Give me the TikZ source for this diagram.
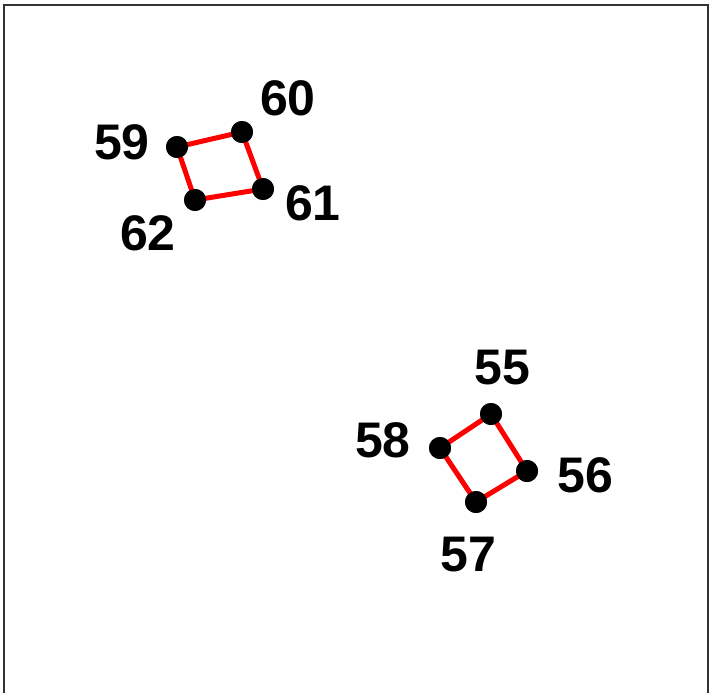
\documentclass[tikz,border=0pt]{standalone}
\usepackage{fontspec}
\setmainfont{Liberation Sans}
\usetikzlibrary{positioning}

\tikzset{
  dot/.style={circle,fill=black,inner sep=0pt,minimum size=22pt},
  num/.style={font=\fontsize{50}{51}\selectfont\bfseries,inner sep=0pt},
  ring/.style={draw=red,line width=5pt}
}

\begin{document}
\begin{tikzpicture}[x=1pt,y=-1pt]
      \useasboundingbox (0,0) rectangle (711,693);
      \draw[line width=2.5pt,black!80] (4,693) -- (4,5) -- (708,5) -- (708,693);

      % upper square
      \node[dot] (p59) at (177,147) {};
      \node[dot] (p60) at (242,132) {};
      \node[dot] (p61) at (263,189) {};
      \node[dot] (p62) at (195,200) {};
      \draw[ring] (p59.center) -- (p60.center) -- (p61.center) -- (p62.center) -- cycle;
      \foreach \p in {59,60,61,62}
        \node[dot] at (p\p) {};
      \node[num] (l59) at (122,142) {59};
      \node[num] (l60) at (288,98) {60};
      \node[num] (l61) at (313,203) {61};
      \node[num] (l62) at (148,233) {62};

      % lower square
      \node[dot] (p55) at (491,414) {};
      \node[dot] (p56) at (527,471) {};
      \node[dot] (p57) at (476,502) {};
      \node[dot] (p58) at (440,448) {};
      \draw[ring] (p55.center) -- (p56.center) -- (p57.center) -- (p58.center) -- cycle;
      \foreach \p in {55,56,57,58}
        \node[dot] at (p\p) {};
      \node[num] (l55) at (502,368) {55};
      \node[num] (l56) at (585,475) {56};
      \node[num] (l57) at (468,555) {57};
      \node[num] (l58) at (383,440) {58};
    \end{tikzpicture}
\end{document}
